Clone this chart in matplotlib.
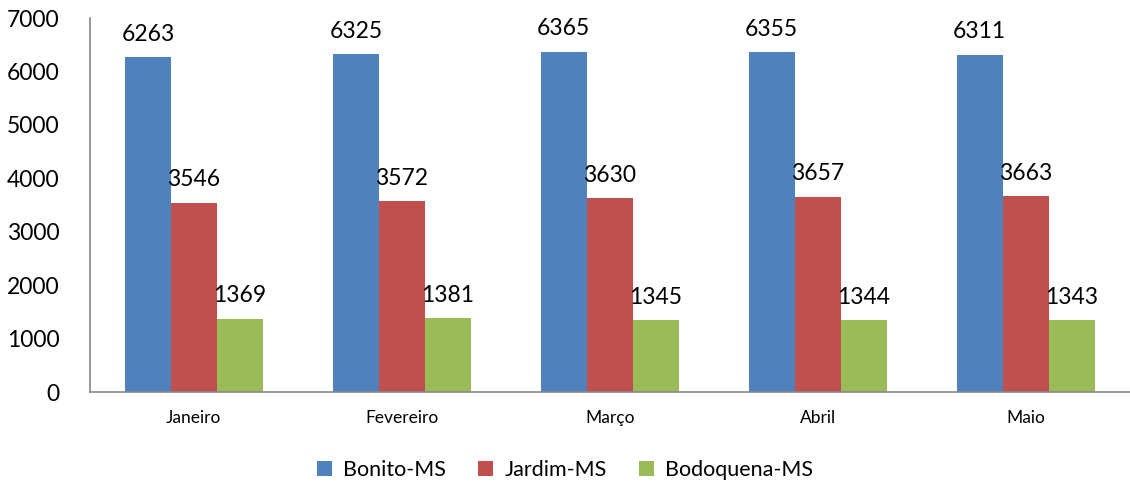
import matplotlib.pyplot as plt
import numpy as np

plt.rcParams['font.family'] = ['Lato', 'DejaVu Sans']

meses = ["Janeiro", "Fevereiro", "Março", "Abril", "Maio"]
bonito = [6263, 6325, 6365, 6355, 6311]
jardim = [3546, 3572, 3630, 3657, 3663]
bodoquena = [1369, 1381, 1345, 1344, 1343]

series = [("Bonito-MS", bonito, "#4F81BD"),
          ("Jardim-MS", jardim, "#C0504D"),
          ("Bodoquena-MS", bodoquena, "#9BBB59")]

fig = plt.figure(figsize=(11.3, 4.87), dpi=100)
ax = fig.add_axes([0.0796, 0.195, 0.92, 0.768])

x = np.arange(len(meses))
w = 0.221
for i, (nome, vals, cor) in enumerate(series):
    bars = ax.bar(x + (i - 1) * w, vals, w, color=cor, label=nome)
    for b, v in zip(bars, vals):
        ax.annotate(str(v), (b.get_x() + b.get_width() / 2, v),
                    xytext=(0, 9), textcoords="offset points",
                    ha="center", va="bottom", fontsize=16.5)

ax.set_xlim(-0.5, 4.5)
ax.set_ylim(0, 7000)
ax.set_yticks(np.arange(0, 7001, 1000))
ax.set_xticks(x, meses)
ax.tick_params(axis="y", length=0, labelsize=16.5, pad=22)
ax.tick_params(axis="x", length=0, labelsize=12.5, pad=13)
for s in ["top", "right"]:
    ax.spines[s].set_visible(False)
for s in ["left", "bottom"]:
    ax.spines[s].set_color("#888888")
    ax.spines[s].set_linewidth(1.2)

fig.legend(loc="lower center", bbox_to_anchor=(0.5, -0.025), ncol=3,
           frameon=False, fontsize=15.5, handlelength=0.7, handleheight=0.7,
           columnspacing=1.5, handletextpad=0.5)

plt.savefig("out.png", dpi=100)
